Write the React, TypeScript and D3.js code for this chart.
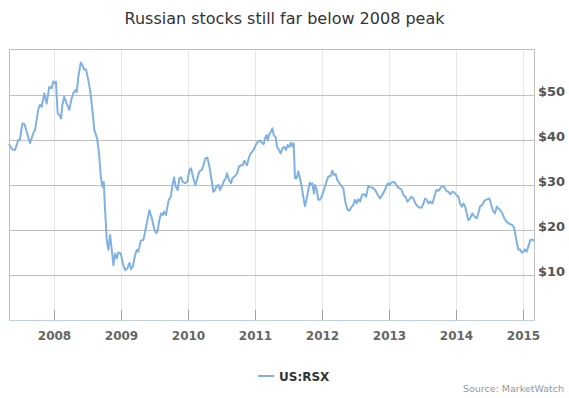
import * as d3 from 'd3';

const years = [
  2007.323, 2007.372, 2007.413, 2007.462, 2007.487, 2007.522, 2007.552, 2007.602, 2007.637, 2007.686,
  2007.712, 2007.761, 2007.786, 2007.812, 2007.851, 2007.886, 2007.925, 2007.961, 2007.985, 2008.010,
  2008.025, 2008.051, 2008.075, 2008.100, 2008.120, 2008.149, 2008.185, 2008.224, 2008.260, 2008.284,
  2008.320, 2008.335, 2008.359, 2008.395, 2008.418, 2008.448, 2008.474, 2008.508, 2008.538, 2008.568,
  2008.598, 2008.638, 2008.668, 2008.693, 2008.717, 2008.738, 2008.758, 2008.783, 2008.807, 2008.832,
  2008.858, 2008.882, 2008.907, 2008.933, 2008.957, 2008.992, 2009.022, 2009.057, 2009.091, 2009.121,
  2009.146, 2009.172, 2009.206, 2009.231, 2009.255, 2009.291, 2009.330, 2009.356, 2009.390, 2009.420,
  2009.456, 2009.490, 2009.520, 2009.539, 2009.569, 2009.595, 2009.620, 2009.640, 2009.669, 2009.689,
  2009.710, 2009.740, 2009.770, 2009.789, 2009.814, 2009.844, 2009.868, 2009.894, 2009.919, 2009.953,
  2009.988, 2010.018, 2010.043, 2010.077, 2010.107, 2010.137, 2010.167, 2010.203, 2010.227, 2010.257,
  2010.287, 2010.317, 2010.346, 2010.376, 2010.402, 2010.427, 2010.451, 2010.476, 2010.511, 2010.541,
  2010.562, 2010.581, 2010.611, 2010.641, 2010.660, 2010.701, 2010.731, 2010.760, 2010.790, 2010.816,
  2010.840, 2010.861, 2010.880, 2010.899, 2010.929, 2010.959, 2010.989, 2011.010, 2011.040, 2011.074,
  2011.100, 2011.130, 2011.149, 2011.174, 2011.189, 2011.209, 2011.239, 2011.258, 2011.279, 2011.309,
  2011.328, 2011.358, 2011.384, 2011.408, 2011.437, 2011.463, 2011.488, 2011.512, 2011.538, 2011.563,
  2011.578, 2011.597, 2011.623, 2011.647, 2011.672, 2011.697, 2011.721, 2011.747, 2011.772, 2011.796,
  2011.817, 2011.836, 2011.856, 2011.881, 2011.896, 2011.922, 2011.946, 2011.971, 2011.996, 2012.031,
  2012.061, 2012.095, 2012.131, 2012.155, 2012.180, 2012.206, 2012.230, 2012.259, 2012.289, 2012.319,
  2012.349, 2012.379, 2012.409, 2012.445, 2012.469, 2012.494, 2012.519, 2012.543, 2012.569, 2012.599,
  2012.629, 2012.658, 2012.693, 2012.718, 2012.759, 2012.793, 2012.827, 2012.868, 2012.898, 2012.927,
  2012.957, 2012.983, 2013.007, 2013.032, 2013.066, 2013.096, 2013.126, 2013.156, 2013.186, 2013.216,
  2013.246, 2013.276, 2013.306, 2013.336, 2013.365, 2013.395, 2013.425, 2013.455, 2013.491, 2013.515,
  2013.540, 2013.566, 2013.590, 2013.615, 2013.649, 2013.679, 2013.709, 2013.739, 2013.769, 2013.799,
  2013.829, 2013.859, 2013.888, 2013.918, 2013.948, 2013.978, 2014.008, 2014.038, 2014.063, 2014.089,
  2014.113, 2014.138, 2014.163, 2014.187, 2014.213, 2014.247, 2014.277, 2014.313, 2014.337, 2014.362,
  2014.397, 2014.427, 2014.462, 2014.501, 2014.537, 2014.561, 2014.586, 2014.612, 2014.636, 2014.666,
  2014.695, 2014.725, 2014.755, 2014.785, 2014.815, 2014.845, 2014.875, 2014.896, 2014.915, 2014.935,
  2014.960, 2014.985, 2015.015, 2015.035, 2015.060, 2015.084, 2015.114, 2015.144, 2015.169,
];

const prices = [
  39.1, 37.9, 37.8, 40.0, 40.1, 43.6, 43.6, 41.1, 39.3, 41.5,
  42.2, 46.8, 47.8, 47.4, 50.4, 48.1, 51.8, 51.5, 53.0, 52.6,
  53.0, 45.9, 45.6, 44.8, 47.8, 49.6, 48.1, 46.7, 49.3, 50.4,
  51.1, 50.7, 54.1, 57.2, 56.7, 55.6, 55.7, 53.3, 50.7, 46.7,
  42.2, 40.4, 37.0, 31.9, 29.6, 30.7, 24.4, 17.8, 15.6, 18.9,
  15.6, 12.2, 14.8, 13.7, 15.0, 14.8, 12.6, 11.1, 11.5, 12.7,
  11.3, 11.9, 14.4, 15.6, 15.2, 17.6, 17.8, 19.6, 22.2, 24.4,
  22.6, 20.4, 19.3, 19.6, 22.2, 23.7, 23.3, 24.1, 23.3, 25.2,
  26.7, 27.4, 30.4, 31.7, 29.6, 28.9, 31.5, 31.7, 30.7, 30.4,
  30.7, 33.3, 33.7, 31.5, 30.0, 31.5, 33.0, 33.3, 34.4, 35.9,
  36.1, 34.1, 31.5, 28.5, 28.9, 29.8, 30.0, 28.9, 30.0, 31.1,
  31.5, 32.6, 31.1, 30.4, 31.5, 32.0, 32.6, 34.1, 34.4, 34.4,
  35.4, 34.8, 34.4, 35.6, 36.9, 37.4, 38.1, 38.9, 39.6, 39.9,
  39.4, 39.1, 40.4, 41.1, 39.9, 41.1, 41.9, 42.6, 41.1, 40.6,
  38.5, 37.8, 37.0, 38.1, 38.5, 37.8, 38.9, 38.4, 39.4, 38.5,
  39.3, 31.5, 31.5, 33.0, 31.5, 29.6, 27.4, 25.3, 27.0, 28.9,
  30.5, 30.0, 30.4, 28.1, 30.0, 28.9, 26.7, 26.7, 27.4, 28.9,
  30.4, 31.9, 32.0, 33.2, 32.2, 32.4, 31.1, 30.5, 29.8, 29.3,
  26.3, 24.6, 24.3, 25.2, 25.6, 26.7, 25.9, 26.8, 26.3, 27.8,
  28.0, 27.4, 29.8, 29.5, 29.4, 28.9, 28.0, 27.0, 27.8, 28.5,
  29.6, 30.4, 30.0, 30.5, 30.7, 30.4, 29.6, 29.3, 29.0, 27.8,
  27.4, 26.3, 26.8, 27.4, 27.0, 25.9, 25.3, 25.0, 25.0, 25.9,
  27.0, 26.7, 25.9, 26.3, 25.9, 27.4, 28.9, 28.7, 29.3, 29.8,
  29.5, 28.7, 28.5, 27.9, 28.5, 28.3, 27.8, 27.4, 25.9, 25.2,
  25.9, 25.2, 23.7, 22.2, 22.6, 23.7, 23.0, 22.6, 23.7, 25.2,
  25.6, 26.5, 26.8, 27.0, 25.2, 24.1, 23.7, 25.2, 24.8, 24.4,
  23.7, 22.6, 21.9, 21.5, 21.3, 21.1, 20.4, 18.5, 17.0, 15.6,
  15.7, 15.0, 15.2, 15.7, 15.2, 16.3, 17.8, 17.9, 17.6,
];

const yTicks = [10, 20, 30, 40, 50];
const yearTicks = [2008, 2009, 2010, 2011, 2012, 2013, 2014, 2015];
const seriesName = 'US:RSX';

function toDate(t: number) {
  const yr = Math.floor(t);
  const start = Date.UTC(yr, 0, 1);
  const end = Date.UTC(yr + 1, 0, 1);
  return new Date(start + (t - yr) * (end - start));
}

export default function App() {
  const width = 569;
  const height = 398;
  const left = 9, right = 534, top = 50, bottom = 320;

  const data = years.map((t, i) => ({ date: toDate(t), value: prices[i] }));

  const x = d3.scaleUtc()
    .domain([data[0].date, data[data.length - 1].date])
    .range([left, right]);

  const y = d3.scaleLinear()
    .domain([0, 60])
    .range([bottom, top]);

  const line = d3.line<{ date: Date; value: number }>()
    .x(d => x(d.date))
    .y(d => y(d.value));

  const font = '"DejaVu Sans", Verdana, sans-serif';
  const crisp = (v: number) => Math.round(v) + 0.5;

  return (
    <div style={{ position: 'absolute', left: 0, top: 0 }}>
      <svg width={width} height={height} style={{ display: 'block', fontFamily: font }}>
        <rect width={width} height={height} fill="#fff" />

        <text x={width / 2} y={24} textAnchor="middle" fontSize={16} fill="#333">
          Russian stocks still far below 2008 peak
        </text>

        {/* vertical year grid */}
        {yearTicks.map(yr => {
          const px = crisp(x(new Date(Date.UTC(yr, 0, 1))));
          return (
            <line key={'vg' + yr} x1={px} x2={px} y1={top} y2={bottom} stroke="#e6e6e6" strokeWidth={1} />
          );
        })}

        {/* horizontal grid */}
        {yTicks.map(v => (
          <line key={'hg' + v} x1={left} x2={right} y1={crisp(y(v))} y2={crisp(y(v))} stroke="#c0c0c0" strokeWidth={1} />
        ))}

        {/* plot frame */}
        <line x1={left} x2={right} y1={crisp(top - 1)} y2={crisp(top - 1)} stroke="#c0c0c0" />
        <line x1={crisp(left)} x2={crisp(left)} y1={top - 1} y2={bottom} stroke="#c0c0c0" />
        <line x1={crisp(right)} x2={crisp(right)} y1={top - 1} y2={bottom} stroke="#c0c0c0" />
        <line x1={left} x2={right + 1} y1={crisp(bottom)} y2={crisp(bottom)} stroke="#c0d0e0" />

        {/* x ticks and labels */}
        {yearTicks.map(yr => {
          const px = crisp(x(new Date(Date.UTC(yr, 0, 1))));
          return (
            <g key={'xt' + yr}>
              <line x1={px} x2={px} y1={bottom - 10} y2={bottom} stroke="#a0a0a0" />
              <text x={px} y={340} textAnchor="middle" fontSize={12} fontWeight="bold" fill="#666">
                {yr}
              </text>
            </g>
          );
        })}

        {/* y labels on the right */}
        {yTicks.map(v => (
          <text key={'yl' + v} x={538} y={y(v) + 0.5} fontSize={13} fontWeight="bold" fill="#555">
            ${v}
          </text>
        ))}

        <path d={line(data) ?? ''} fill="none" stroke="#7fb2e3" strokeWidth={2} strokeLinejoin="round" />

        {/* legend */}
        <line x1={258} x2={274} y1={376} y2={376} stroke="#7fb2e3" strokeWidth={2} />
        <text x={279} y={380.5} fontSize={12} fontWeight="bold" fill="#333">{seriesName}</text>

        <text x={564} y={392} textAnchor="end" fontSize={9.5} fill="#999">Source: MarketWatch</text>
      </svg>
    </div>
  );
}
